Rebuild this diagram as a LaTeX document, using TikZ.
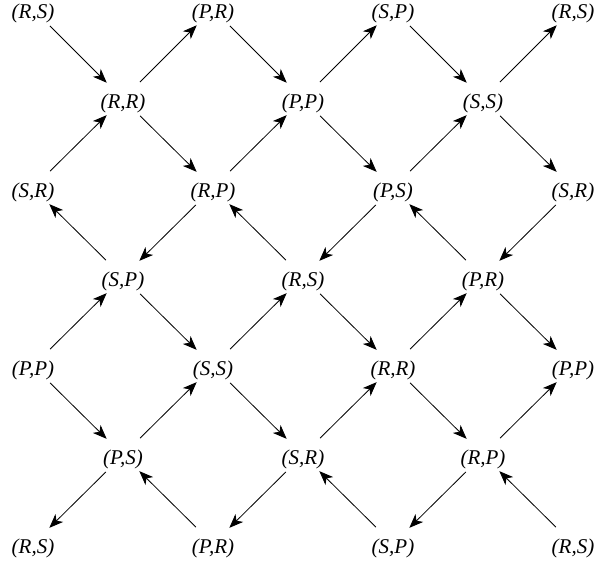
\documentclass[tikz,border=0pt]{standalone}
\usepackage{fontspec}
\setmainfont{Liberation Serif}
\usetikzlibrary{arrows.meta}
\tikzset{
  st/.style={font=\fontsize{21}{23}\selectfont\itshape, inner sep=0pt},
  arr/.style={line width=0.8pt, -{Stealth[length=14pt,width=11pt,inset=4pt]}, shorten <=24pt, shorten >=23pt}
}
\newcommand{\conn}[2]{\draw[arr] ([yshift=4pt]#1.center) -- ([yshift=4pt]#2.center);}
\begin{document}
\begin{tikzpicture}[x=1pt,y=-1pt]
\useasboundingbox (0,0) rectangle (597,566);
% columns
\def\xa{33}\def\xb{123}\def\xc{213}\def\xd{303}\def\xe{393}\def\xf{483}\def\xg{573}
\def\ya{13}\def\yb{103}\def\yc{192}\def\yd{281}\def\ye{370}\def\yf{459}\def\yg{548}
% row 0
\node[st] (n00) at (\xa,\ya) {(R,S)};
\node[st] (n20) at (\xc,\ya) {(P,R)};
\node[st] (n40) at (\xe,\ya) {(S,P)};
\node[st] (n60) at (\xg,\ya) {(R,S)};
% row 1
\node[st] (n11) at (\xb,\yb) {(R,R)};
\node[st] (n31) at (\xd,\yb) {(P,P)};
\node[st] (n51) at (\xf,\yb) {(S,S)};
% row 2
\node[st] (n02) at (\xa,\yc) {(S,R)};
\node[st] (n22) at (\xc,\yc) {(R,P)};
\node[st] (n42) at (\xe,\yc) {(P,S)};
\node[st] (n62) at (\xg,\yc) {(S,R)};
% row 3
\node[st] (n13) at (\xb,\yd) {(S,P)};
\node[st] (n33) at (\xd,\yd) {(R,S)};
\node[st] (n53) at (\xf,\yd) {(P,R)};
% row 4
\node[st] (n04) at (\xa,\ye) {(P,P)};
\node[st] (n24) at (\xc,\ye) {(S,S)};
\node[st] (n44) at (\xe,\ye) {(R,R)};
\node[st] (n64) at (\xg,\ye) {(P,P)};
% row 5
\node[st] (n15) at (\xb,\yf) {(P,S)};
\node[st] (n35) at (\xd,\yf) {(S,R)};
\node[st] (n55) at (\xf,\yf) {(R,P)};
% row 6
\node[st] (n06) at (\xa,\yg) {(R,S)};
\node[st] (n26) at (\xc,\yg) {(P,R)};
\node[st] (n46) at (\xe,\yg) {(S,P)};
\node[st] (n66) at (\xg,\yg) {(R,S)};
% arrows rows 0-1
\conn{n00}{n11}\conn{n11}{n20}\conn{n20}{n31}\conn{n31}{n40}\conn{n40}{n51}\conn{n51}{n60}
% rows 1-2
\conn{n02}{n11}\conn{n11}{n22}\conn{n22}{n31}\conn{n31}{n42}\conn{n42}{n51}\conn{n51}{n62}
% rows 2-3
\conn{n13}{n02}\conn{n22}{n13}\conn{n33}{n22}\conn{n42}{n33}\conn{n53}{n42}\conn{n62}{n53}
% rows 3-4
\conn{n04}{n13}\conn{n13}{n24}\conn{n24}{n33}\conn{n33}{n44}\conn{n44}{n53}\conn{n53}{n64}
% rows 4-5
\conn{n04}{n15}\conn{n15}{n24}\conn{n24}{n35}\conn{n35}{n44}\conn{n44}{n55}\conn{n55}{n64}
% rows 5-6
\conn{n15}{n06}\conn{n26}{n15}\conn{n35}{n26}\conn{n46}{n35}\conn{n55}{n46}\conn{n66}{n55}
\end{tikzpicture}
\end{document}
